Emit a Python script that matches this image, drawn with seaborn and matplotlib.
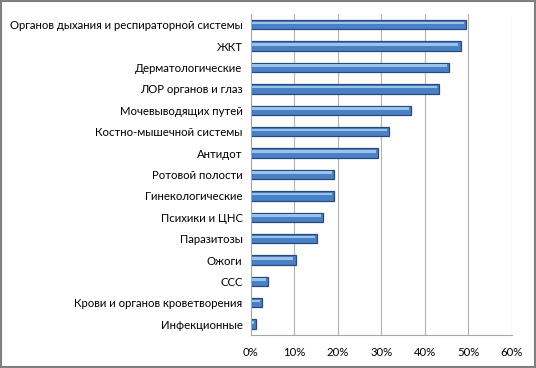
import matplotlib
matplotlib.use("Agg")
import numpy as np
import pandas as pd
import seaborn as sns
import matplotlib.pyplot as plt
from matplotlib.patches import Rectangle
from matplotlib.ticker import PercentFormatter

categories = [
    "Органов дыхания и респираторной системы",
    "ЖКТ",
    "Дерматологические",
    "ЛОР органов и глаз",
    "Мочевыводящих путей",
    "Костно-мышечной системы",
    "Антидот",
    "Ротовой полости",
    "Гинекологические",
    "Психики и ЦНС",
    "Паразитозы",
    "Ожоги",
    "ССС",
    "Крови и органов кроветворения",
    "Инфекционные",
]
shares = [49.5, 48.2, 45.6, 43.2, 36.9, 31.8, 29.2, 19.1, 19.1, 16.6, 15.3, 10.3, 3.9, 2.6, 1.2]
x_ticks = [0, 10, 20, 30, 40, 50, 60]

df = pd.DataFrame({"cat": categories, "share": shares})

sns.set_theme(style="white")
plt.rcParams["font.family"] = ["Lato", "DejaVu Sans"]

fig = plt.figure(figsize=(5.36, 3.68), dpi=100)
ax = fig.add_axes([0.468, 0.090, 0.487, 0.872])

# main bar with dark outline, then a lighter stripe for the bevel look
sns.barplot(data=df, x="share", y="cat", orient="h", color="#4a80c6",
            width=0.44, edgecolor="#244a7e", linewidth=0.9, saturation=1, ax=ax)
sns.barplot(data=df, x="share", y="cat", orient="h", color="#9cc2ec",
            width=0.12, linewidth=0, saturation=1, ax=ax)
for p in ax.patches[len(df):]:
    p.set_y(p.get_y() - 0.08)
    p.set_x(0.3)
    p.set_width(max(p.get_width() - 0.8, 0.2))

ax.set_xlim(0, 60)
ax.set_xticks(x_ticks)
ax.xaxis.set_major_formatter(PercentFormatter(decimals=0))
ax.set_xlabel("")
ax.set_ylabel("")
ax.grid(axis="x", color="#b3b3b3", linewidth=0.8)
ax.set_axisbelow(True)
for s in ["top", "right"]:
    ax.spines[s].set_visible(False)
for s in ["left", "bottom"]:
    ax.spines[s].set_color("#a6a6a6")
    ax.spines[s].set_linewidth(0.8)
ax.tick_params(axis="both", labelsize=8.2, colors="black", length=0, pad=6)
ax.tick_params(axis="x", pad=9)

fig.patches.append(Rectangle((0.002, 0.003), 0.996, 0.994, transform=fig.transFigure,
                             fill=False, edgecolor="#7f7f7f", linewidth=1.5))

fig.savefig("out.png", dpi=100)
